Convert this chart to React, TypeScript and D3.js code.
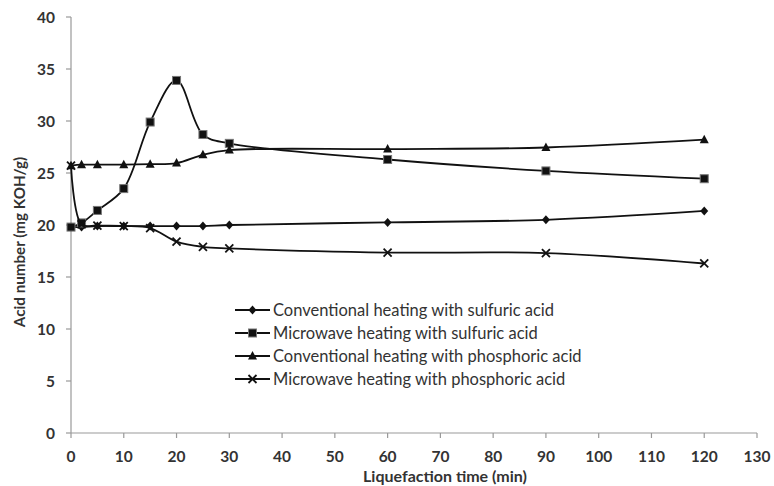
import * as React from "react";
import * as d3 from "d3";

const times = [0, 2, 5, 10, 15, 20, 25, 30, 60, 90, 120];
const convSulfuric = [19.8, 19.8, 19.9, 19.9, 19.9, 19.9, 19.9, 20.0, 20.25, 20.5, 21.35];
const microSulfuric = [19.8, 20.2, 21.4, 23.5, 29.9, 33.9, 28.7, 27.85, 26.3, 25.2, 24.45];
const convPhosphoric = [25.7, 25.8, 25.8, 25.8, 25.85, 25.95, 26.75, 27.2, 27.3, 27.45, 28.2];
const microPhosphoric = [25.7, 20.05, 19.95, 19.9, 19.7, 18.4, 17.9, 17.75, 17.35, 17.3, 16.3];

const seriesNames = [
  "Conventional heating with sulfuric acid",
  "Microwave heating with sulfuric acid",
  "Conventional heating with phosphoric acid",
  "Microwave heating with phosphoric acid",
];
const seriesMarkers = ["diamond", "square", "triangle", "cross"];
const seriesValues = [convSulfuric, microSulfuric, convPhosphoric, microPhosphoric];

const xTicks = d3.range(0, 131, 10);
const yTicks = d3.range(0, 41, 5);

function Marker(props: { type: string; x: number; y: number }) {
  const { type, x, y } = props;
  if (type === "diamond") {
    return <path d={`M${x},${y - 4.5}L${x + 4},${y}L${x},${y + 4.5}L${x - 4},${y}Z`} fill="#111" />;
  }
  if (type === "square") {
    return <rect x={x - 4} y={y - 4} width={8} height={8} fill="#111" stroke="#777" strokeWidth={1} />;
  }
  if (type === "triangle") {
    return <path d={`M${x},${y - 5}L${x + 4.5},${y + 3.5}L${x - 4.5},${y + 3.5}Z`} fill="#111" />;
  }
  return (
    <path
      d={`M${x - 4},${y - 4}L${x + 4},${y + 4}M${x - 4},${y + 4}L${x + 4},${y - 4}`}
      stroke="#111"
      strokeWidth={1.8}
      fill="none"
    />
  );
}

export default function App() {
  const width = 774;
  const height = 486;
  const left = 71;
  const right = 757;
  const top = 17;
  const bottom = 433;

  const x = d3.scaleLinear().domain([0, 130]).range([left, right]);
  const y = d3.scaleLinear().domain([0, 40]).range([bottom, top]);

  const line = d3
    .line<number>()
    .x((d, i) => x(times[i]))
    .y((d) => y(d))
    .curve(d3.curveCatmullRom.alpha(0.5));

  const axisColor = "#999";
  const textColor = "#333";
  const font = "Lato, 'Open Sans', sans-serif";

  return (
    <svg
      width={width}
      height={height}
      style={{ position: "absolute", left: 0, top: 0, background: "#fff" }}
      fontFamily={font}
    >
      {/* axes */}
      <line x1={left} y1={top} x2={left} y2={bottom} stroke={axisColor} strokeWidth={1.2} />
      <line x1={left} y1={bottom} x2={right} y2={bottom} stroke={axisColor} strokeWidth={1.2} />
      {yTicks.map((t) => (
        <g key={"y" + t} transform={`translate(${left}, ${y(t)})`}>
          <line x1={-5} x2={0} stroke={axisColor} strokeWidth={1.2} />
          <text
            x={-16}
            y={0}
            textAnchor="end"
            dominantBaseline="central"
            fontSize={15.5}
            fontWeight="bold"
            fill={textColor}
          >
            {t}
          </text>
        </g>
      ))}
      {xTicks.map((t) => (
        <g key={"x" + t} transform={`translate(${x(t)}, ${bottom})`}>
          <line y1={0} y2={5} stroke={axisColor} strokeWidth={1.2} />
          <text
            x={0}
            y={23}
            textAnchor="middle"
            dominantBaseline="central"
            fontSize={15.5}
            fontWeight="bold"
            fill={textColor}
          >
            {t}
          </text>
        </g>
      ))}
      <text
        transform={`translate(19, 242) rotate(-90)`}
        textAnchor="middle"
        dominantBaseline="central"
        fontSize={15.2}
        fontWeight="bold"
        fill={textColor}
      >
        Acid number (mg KOH/g)
      </text>
      <text
        x={445}
        y={475}
        textAnchor="middle"
        dominantBaseline="central"
        fontSize={16}
        fontWeight="bold"
        fill={textColor}
      >
        Liquefaction time (min)
      </text>

      {/* series */}
      {seriesValues.map((vals, s) => (
        <g key={"s" + s}>
          <path d={line(vals) || ""} fill="none" stroke="#111" strokeWidth={1.8} />
          {vals.map((v, i) => (
            <Marker key={i} type={seriesMarkers[s]} x={x(times[i])} y={y(v)} />
          ))}
        </g>
      ))}

      {/* legend */}
      <g transform="translate(235, 310)">
        {seriesNames.map((name, i) => (
          <g key={name} transform={`translate(0, ${i * 23})`}>
            <line x1={0} x2={35} y1={0} y2={0} stroke="#111" strokeWidth={1.8} />
            <Marker type={seriesMarkers[i]} x={17.5} y={0} />
            <text
              x={38}
              y={0}
              dominantBaseline="central"
              fontSize={16.5}
              fill={textColor}
            >
              {name}
            </text>
          </g>
        ))}
      </g>
    </svg>
  );
}
